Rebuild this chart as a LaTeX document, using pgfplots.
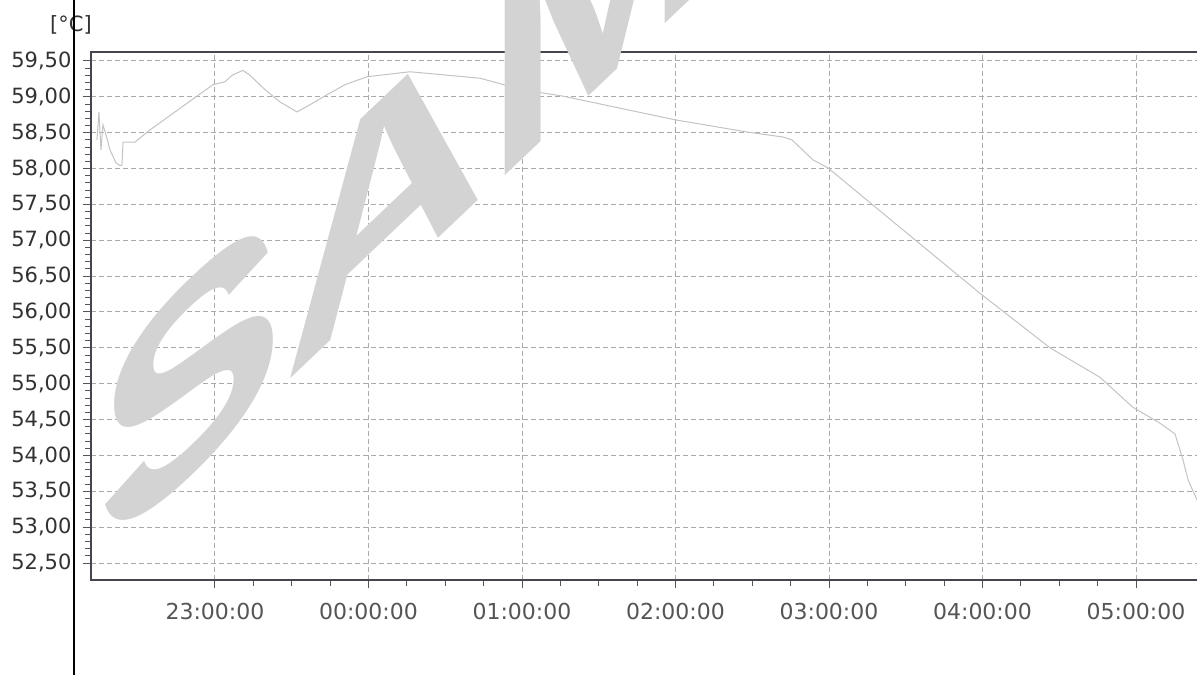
\documentclass[border=0pt]{standalone}
\usepackage{fontspec}
\setmainfont{DejaVu Sans}
\newfontfamily\wmfont{Liberation Sans}
\usepackage{pgfplots}
\pgfplotsset{compat=1.18}

\definecolor{gridc}{RGB}{170,170,170}
\definecolor{axisc}{RGB}{70,70,80}
\definecolor{curvec}{RGB}{195,195,195}
\definecolor{ylab}{RGB}{50,50,50}
\definecolor{xlab}{RGB}{85,85,85}
\definecolor{wm}{RGB}{211,211,211}

% temperature log, x in hours (24 = 00:00)
\pgfplotstableread{
h v
22.231 58.40
22.244 58.79
22.257 58.26
22.270 58.61
22.290 58.47
22.316 58.26
22.355 58.08
22.381 58.04
22.394 58.05
22.401 58.37
22.479 58.37
22.577 58.54
22.772 58.84
22.987 59.17
23.065 59.21
23.111 59.30
23.182 59.37
23.228 59.30
23.326 59.10
23.423 58.93
23.534 58.79
23.619 58.89
23.730 59.03
23.847 59.17
23.990 59.28
24.270 59.35
24.726 59.26
25.000 59.10
25.267 59.01
25.997 58.68
26.466 58.51
26.700 58.44
26.759 58.40
26.896 58.12
26.993 58.01
27.547 57.03
27.984 56.26
28.440 55.50
28.765 55.09
28.980 54.67
29.156 54.45
29.254 54.30
29.306 53.94
29.339 53.66
29.397 53.38
}\temps

\begin{document}
\begin{tikzpicture}[x=1pt,y=1pt]
\useasboundingbox (0,0) rectangle (1197,675);
\clip (0,0) rectangle (1197,675);
\begin{axis}[
    at={(91pt,95pt)}, anchor=south west,
    scale only axis, width=1110pt, height=528pt,
    xmin=22.1922, xmax=29.4235,
    ymin=52.263, ymax=59.6255,
    axis line style={draw=axisc, line width=2.5pt},
    xtick={23,24,25,26,27,28,29},
    xticklabels={23:00:00,00:00:00,01:00:00,02:00:00,03:00:00,04:00:00,05:00:00},
    ytick={52.5,53,...,59.5},
    minor x tick num=3,
    minor y tick num=4,
    xtick pos=left, ytick pos=left,
    tick align=outside,
    major tick length=8pt, minor tick length=6pt,
    tick style={draw=xlab, line width=1pt},
    grid=major,
    major grid style={draw=gridc, line width=1pt, dash pattern=on 5pt off 3pt},
    /pgf/number format/assume math mode=true,
    /pgf/number format/.cd, fixed, fixed zerofill, precision=2, use comma, 1000 sep={},
    /pgfplots/.cd,
    yticklabel style={font=\fontsize{21}{22}\selectfont, text=ylab, xshift=-8pt},
    xticklabel style={font=\fontsize{22}{24}\selectfont, text=xlab, yshift=-12pt},
    clip=true,
]
\addplot[curvec, line width=1pt] table[x=h, y=v] {\temps};
\end{axis}
\begin{scope}[shift={(97,112)}, yslant=0.95, transform shape]
\node[anchor=base west, inner sep=0pt, text=wm,
      font=\wmfont\bfseries\fontsize{280}{280}\selectfont] at (0,0) {SAMPLE};
\end{scope}
\node[text=ylab, font=\fontsize{21}{24}\selectfont] at (71,650) {[°C]};
\draw[black, line width=2pt] (74,0) -- (74,675);
\end{tikzpicture}
\end{document}
